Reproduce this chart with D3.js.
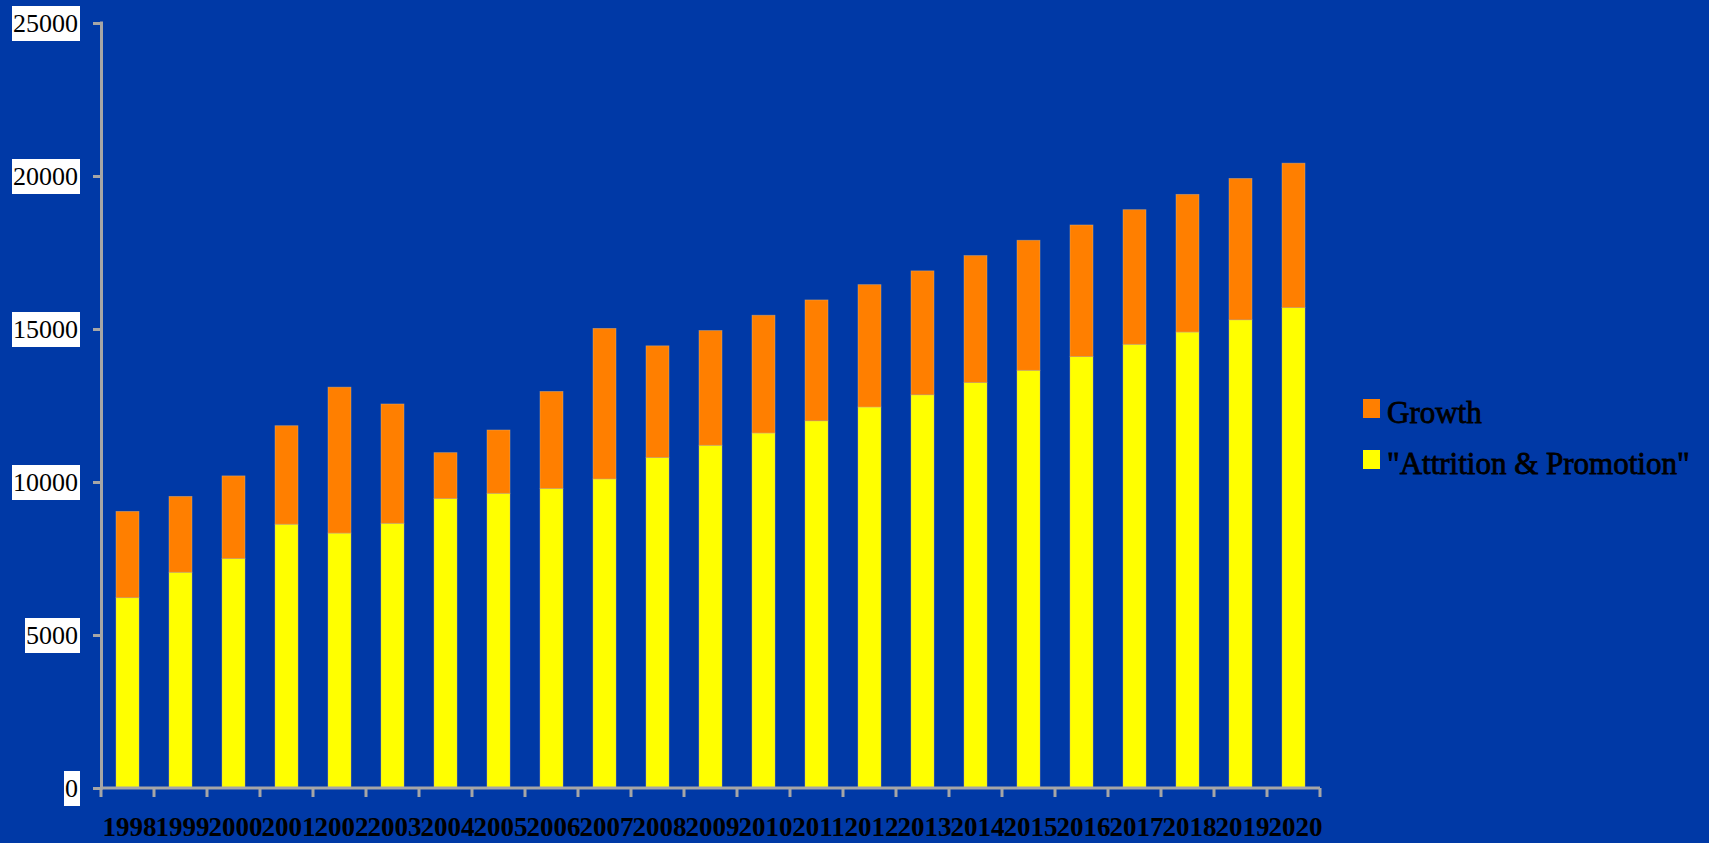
<!DOCTYPE html>
<html>
<head>
<meta charset="utf-8">
<script src="https://cdn.jsdelivr.net/npm/d3@7"></script>
<style>
    html, body { margin: 0; padding: 0; background: #0039a6; overflow: hidden; }
    svg { display: block; }
</style>
</head>
<body>
<div id="graphic"></div>
<script>
// dati
var years = ["1998", "1999", "2000", "2001", "2002", "2003", "2004", "2005", "2006", "2007", "2008",
    "2009", "2010", "2011", "2012", "2013", "2014", "2015", "2016", "2017", "2018", "2019", "2020"];
var attrition = [6220, 7050, 7500, 8620, 8330, 8650, 9460, 9630, 9790, 10100, 10800,
    11200, 11600, 12000, 12450, 12850, 13250, 13650, 14100, 14500, 14900, 15300, 15700];
var growth = [2820, 2480, 2700, 3220, 4770, 3900, 1500, 2070, 3170, 4920, 3650,
    3750, 3850, 3950, 4000, 4050, 4150, 4250, 4300, 4400, 4500, 4620, 4720];
var yTicks = [0, 5000, 10000, 15000, 20000, 25000];
var seriesNames = ["Growth", "\"Attrition & Promotion\""];
var seriesColors = ["#ff7f00", "#ffff00"];

var W = 1709, H = 843;
var margin = {top: 23, left: 101, right: 389, bottom: 55};
var h = H - margin.top - margin.bottom;
var w = W - margin.left - margin.right;

var svg = d3.select('#graphic')
    .append('svg')
    .attr('width', W)
    .attr('height', H);

svg.append('rect')
    .attr('width', W)
    .attr('height', H)
    .attr('fill', '#0039a6');

var g = svg.append('g')
    .attr('transform', 'translate(' + margin.left + ',' + margin.top + ')');

// scale
var xScale = d3.scaleBand()
    .domain(years)
    .range([0, w])
    .paddingInner(0.566)
    .paddingOuter(0.283);
var yScale = d3.scaleLinear()
    .domain([0, 25000])
    .range([h, 0]);

var data = years.map(function (y, i) {
    return {year: y, attrition: attrition[i], growth: growth[i]};
});
var stack = d3.stack().keys(['attrition', 'growth'])(data);

// barre
g.selectAll('.serie')
    .data(stack)
    .enter()
    .append('g')
    .attr('class', 'serie')
    .attr('fill', function (d, i) { return i === 0 ? seriesColors[1] : seriesColors[0]; })
    .selectAll('rect')
    .data(function (d) { return d; })
    .enter()
    .append('rect')
    .attr('x', function (d) { return xScale(d.data.year); })
    .attr('y', function (d) { return yScale(d[1]); })
    .attr('width', xScale.bandwidth())
    .attr('height', function (d) { return yScale(d[0]) - yScale(d[1]); })
    .attr('stroke', '#d9b98a')
    .attr('stroke-opacity', 0.5)
    .attr('stroke-width', 0.8);

// asse y
var yAxis = d3.axisLeft(yScale)
    .tickValues(yTicks)
    .tickSize(8)
    .tickFormat('');
var ya = g.append('g').call(yAxis);
ya.select('.domain').remove();
ya.selectAll('line').attr('stroke', '#a6a6a6').attr('stroke-width', 3);
g.append('line')
    .attr('x1', 0.5).attr('x2', 0.5)
    .attr('y1', yScale(25000) - 1.5).attr('y2', h + 1.5)
    .attr('stroke', '#a6a6a6').attr('stroke-width', 3);

// etichette y con box bianco
yTicks.forEach(function (v) {
    var lab = svg.append('g');
    var t = lab.append('text')
        .attr('x', 78)
        .attr('y', margin.top + yScale(v) + 9)
        .attr('text-anchor', 'end')
        .attr('font-family', 'Liberation Serif, Times New Roman, serif')
        .attr('font-size', '26px')
        .attr('fill', 'black')
        .text(v);
    var bb = t.node().getBBox();
    lab.insert('rect', 'text')
        .attr('x', bb.x - 1)
        .attr('y', margin.top + yScale(v) - 17)
        .attr('width', 80 - bb.x + 1)
        .attr('height', 35)
        .attr('fill', 'white');
});

// asse x
var step = xScale.step();
var xa = g.append('g').attr('transform', 'translate(0,' + h + ')');
xa.append('line')
    .attr('x1', 0).attr('x2', w)
    .attr('stroke', '#a6a6a6').attr('stroke-width', 3);
xa.selectAll('.tick')
    .data(d3.range(years.length + 1))
    .enter()
    .append('line')
    .attr('x1', function (i) { return i * step; })
    .attr('x2', function (i) { return i * step; })
    .attr('y1', 0).attr('y2', 9)
    .attr('stroke', '#a6a6a6').attr('stroke-width', 3);
xa.selectAll('.lab')
    .data(years)
    .enter()
    .append('text')
    .attr('x', function (d) { return xScale(d) + xScale.bandwidth() / 2 + 2; })
    .attr('y', 48)
    .attr('text-anchor', 'middle')
    .attr('font-family', 'Liberation Serif, Times New Roman, serif')
    .attr('font-weight', 'bold')
    .attr('font-size', '27px')
    .attr('fill', 'black')
    .text(function (d) { return d; });

// legenda
var legend = svg.append('g').attr('transform', 'translate(1363,399)');
seriesNames.forEach(function (name, i) {
    legend.append('rect')
        .attr('x', 0)
        .attr('y', i * 51)
        .attr('width', 17)
        .attr('height', 19)
        .attr('fill', seriesColors[i]);
    legend.append('text')
        .attr('x', 24)
        .attr('y', i * 51 + 24)
        .attr('font-family', 'Liberation Serif, Times New Roman, serif')
        .attr('font-size', '31px')
        .attr('fill', 'black')
        .attr('stroke', 'black')
        .attr('stroke-width', 0.8)
        .text(name);
});
</script>
</body>
</html>
